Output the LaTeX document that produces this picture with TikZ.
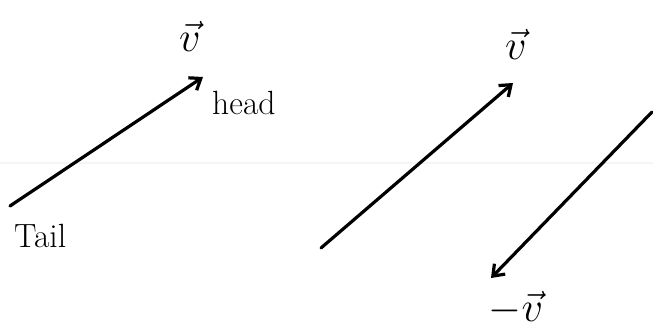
\documentclass[tikz,border=0pt]{standalone}
\usepackage{graphicx}
\usetikzlibrary{arrows.meta}
\newcommand{\bigvec}[1]{\scalebox{1.7}{\Huge$#1$}}
\newcommand{\bigtxt}[1]{\scalebox{1.35}{\Huge #1}}
\begin{document}
\begin{tikzpicture}[x=1pt,y=-1pt,
  vec/.style={line width=3.2pt,line cap=round,-{Straight Barb[length=10pt,width=15pt,line width=3.2pt]}},
  lbl/.style={inner sep=0pt},
  vlbl/.style={inner sep=0pt}]
\useasboundingbox (0,0) rectangle (653,331);
\fill[white] (0,0) rectangle (653,331);
% faint scan line
\draw[gray!8,line width=2pt] (0,163) -- (653,163);
% vector 1
\coordinate (t1) at (10,206);
\coordinate (h1) at (203,77);
\draw[vec] (t1) -- (h1);
\node[vlbl] (v1) at (190,36) {\bigvec{\vec{v}}};
\node[lbl,anchor=west] (head) at (212,103) {\bigtxt{head}};
\node[lbl,anchor=west] (tail) at (14,236) {\bigtxt{Tail}};
% vector 2
\coordinate (t2) at (321,248);
\coordinate (h2) at (513,83);
\draw[vec] (t2) -- (h2);
\node[vlbl] (v2) at (516,44) {\bigvec{\vec{v}}};
% vector 3 (negative)
\coordinate (t3) at (652,112);
\coordinate (h3) at (491,278);
\draw[vec] (t3) -- (h3);
\node[vlbl] (v3) at (516,308) {\bigvec{-\vec{v}}};
\end{tikzpicture}
\end{document}
